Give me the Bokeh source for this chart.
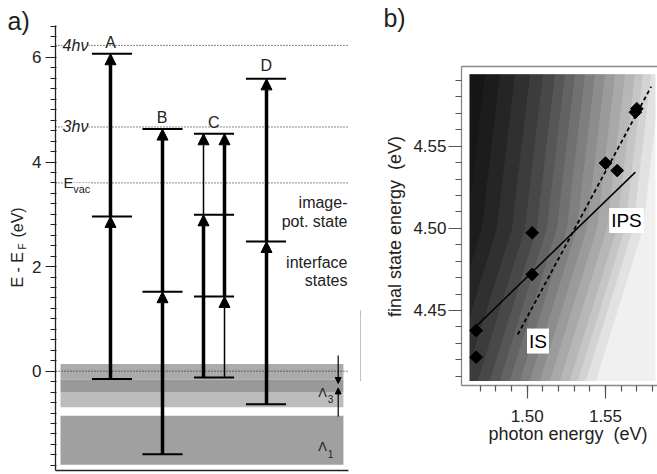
import math
import numpy as np
from bokeh.plotting import figure
from bokeh.layouts import row
from bokeh.models import (Range1d, LinearAxis, FixedTicker, Label, Arrow, NormalHead,
                          ColumnDataSource, NumeralTickFormatter)
from bokeh.embed import file_html
from bokeh.resources import INLINE

FONT = "Liberation Sans"
TXT = "#222222"

# ---------------- panel a) data ----------------
col_names = ["A", "B", "C", "D"]
col_centre = [1.915, 3.627, 5.373, 7.136]          # centre of level bars (column positions)
levels_A = [-0.15, 2.96, 6.07]
levels_B = [-1.59, 1.52, 4.63]
levels_C = [-0.12, 1.43, 2.99, 4.54]
levels_D = [-0.63, 2.48, 5.59]
letter_x = [1.864, 3.617, 5.366, 7.142]
letter_y = [6.29, 4.857, 4.76, 5.84]

arrow_x = [1.864, 1.864, 3.627, 3.627, 5.017, 5.017, 5.729, 5.729, 7.153, 7.153]
arrow_from = [-0.15, 2.96, -1.59, 1.52, -0.12, 2.99, -0.12, 1.43, -0.63, 2.48]
arrow_to = [2.96, 6.07, 1.52, 4.63, 2.99, 4.54, 1.43, 4.54, 2.48, 5.59]
arrow_thick = [1, 1, 1, 1, 1, 0, 0, 1, 1, 1]

ref_energy = [6.23, 4.67, 3.60, 0.0]        # 4hv, 3hv, Evac, EF
band_top = [0.14, -0.16, -0.40, -0.85]
band_bottom = [-0.16, -0.40, -0.69, -1.79]
band_color = ["#ababab", "#999999", "#bcbcbc", "#a0a0a0"]

y_major = [0, 2, 4, 6]
y_tick_labels = ["0", "2", "4", "6"]
a_ylim = [-1.899, 6.61]
a_xlim = [0.0, 9.93]

# ---------------- panel b) data ----------------
photon = [1.4674, 1.4674, 1.5032, 1.5032, 1.5500, 1.5575, 1.5691, 1.5700]
final_state = [4.4378, 4.4216, 4.4719, 4.4973, 4.5397, 4.5352, 4.5707, 4.5728]
ips_x = [1.4680, 1.5691]
ips_y = [4.4409, 4.5342]
is_x = [1.4940, 1.5792]
is_y = [4.4354, 4.5863]
b_xticks = [1.50, 1.55]
b_yticks = [4.45, 4.50, 4.55]
b_xlim = [1.45805, 1.58321]
b_ylim = [4.40435, 4.5985]
# background shading: band edges (photon energy at image bottom) and grey levels
grad_edges = [1.3800, 1.4223, 1.4319, 1.4414, 1.4510, 1.4606, 1.4689, 1.4765, 1.4829,
              1.4893, 1.4957, 1.5021, 1.5085, 1.5149, 1.5213, 1.5276, 1.5328, 1.5379,
              1.5443, 1.7000]
grad_grays = ["#0e0e0e", "#161616", "#1c1c1c", "#252525", "#303030", "#3c3c3c", "#484848",
              "#565656", "#636363", "#717171", "#7f7f7f", "#8d8d8d", "#9b9b9b", "#a9a9a9",
              "#b7b7b7", "#c5c5c5", "#d3d3d3", "#e2e2e2", "#f0f0f0"]
contour_y = [4.4074, 4.5000, 4.5935]
contour_dx = [0.0, 0.030, 0.0415]
img_left, img_right = 1.46316, 1.58193


def lab(p, x, y, text, size, align="center", baseline="middle", style="normal", angle=0,
        bg=None, color=TXT, padding=None):
    kw = dict(x=x, y=y, text=text, text_font=FONT, text_font_size=size, text_align=align,
              text_baseline=baseline, text_font_style=style, angle=angle, text_color=color)
    if bg is not None:
        kw["background_fill_color"] = bg
    if padding is not None:
        kw["padding"] = padding
    p.add_layout(Label(**kw))


# =============== figure a ===============
# frame covers the whole figure; px -> data: x=(px-55)/29.5, y=(370.7-py)/52.297
p1 = figure(width=360, height=474, output_backend="svg", toolbar_location=None,
            x_range=Range1d(-1.8644, 10.339), y_range=Range1d(-1.9753, 7.0885),
            min_border=0, x_axis_location=None, y_axis_location=None)
p1.outline_line_color = None
p1.grid.visible = False

yax = LinearAxis(ticker=FixedTicker(ticks=y_major,
                                    minor_ticks=list(np.round(np.arange(-1.8, 6.61, 0.2), 2))),
                 major_label_overrides={t: l for t, l in zip(y_major, y_tick_labels)},
                 fixed_location=0)
yax.axis_line_color = None
yax.major_tick_line_color = TXT
yax.minor_tick_line_color = TXT
yax.major_tick_line_width = 1.2
yax.minor_tick_line_width = 1.2
yax.major_tick_out = 10
yax.major_tick_in = 0
yax.minor_tick_out = 5
yax.minor_tick_in = 1
yax.major_label_standoff = 4
yax.major_label_text_font = FONT
yax.major_label_text_font_size = "17px"
yax.major_label_text_color = TXT
p1.add_layout(yax, "left")

# axis lines (left and bottom)
p1.segment(x0=[a_xlim[0], a_xlim[0]], x1=[a_xlim[0], a_xlim[1]],
           y0=[a_ylim[0], a_ylim[0]], y1=[a_ylim[1], a_ylim[0]],
           line_color=TXT, line_width=1.3)

# bands
p1.quad(left=0.17, right=9.76, top=band_top, bottom=band_bottom, fill_color=band_color,
        line_color=None)

# reference dotted lines
p1.segment(x0=0, x1=9.9, y0=ref_energy, y1=ref_energy, line_color="#111111", line_width=1,
           line_dash="1 2")

# level bars
lev_x, lev_y = [], []
for c, lv in zip(col_centre, [levels_A, levels_B, levels_C, levels_D]):
    for v in lv:
        lev_x.append(c)
        lev_y.append(v)
p1.segment(x0=[x - 0.68 for x in lev_x], x1=[x + 0.68 for x in lev_x], y0=lev_y, y1=lev_y,
           line_color="black", line_width=2)

# arrows
for thick in (1, 0):
    idx = [i for i, t in enumerate(arrow_thick) if t == thick]
    src = ColumnDataSource(dict(x0=[arrow_x[i] for i in idx], x1=[arrow_x[i] for i in idx],
                                y0=[arrow_from[i] for i in idx], y1=[arrow_to[i] for i in idx]))
    p1.add_layout(Arrow(source=src, x_start="x0", y_start="y0", x_end="x1", y_end="y1",
                        line_width=3.5 if thick else 1.5, line_color="black",
                        end=NormalHead(size=11, fill_color="black", line_color="black",
                                       line_width=1)))

# small Lambda3 arrows
src_s = ColumnDataSource(dict(x0=[9.583, 9.583], x1=[9.583, 9.583], y0=[0.30, -0.866],
                              y1=[-0.235, -0.32]))
p1.add_layout(Arrow(source=src_s, x_start="x0", y_start="y0", x_end="x1", y_end="y1",
                    line_width=1.2, line_color="black",
                    end=NormalHead(size=6, fill_color="black", line_color="black", line_width=1)))

for n, x, y in zip(col_names, letter_x, letter_y):
    lab(p1, x, y, n, "16px")

lab(p1, 0.24, ref_energy[0], "4hν", "16px", align="left", style="italic", bg="white")
lab(p1, 0.24, ref_energy[1], "3hν", "16px", align="left", style="italic", bg="white")
lab(p1, 0.27, ref_energy[2], "E", "15px", align="left", bg="white")
lab(p1, 0.60, ref_energy[2] - 0.115, "vac", "11px", align="left", bg="white")

lab(p1, 9.898, 3.226, "image-", "16px", align="right")
lab(p1, 9.898, 2.862, "pot. state", "16px", align="right")
lab(p1, 9.898, 2.084, "interface", "16px", align="right")
lab(p1, 9.898, 1.733, "states", "16px", align="right")

lab(p1, 9.05, -0.407, "Λ", "13px")
lab(p1, 9.32, -0.54, "3", "10px")
lab(p1, 9.05, -1.449, "Λ", "13px")
lab(p1, 9.32, -1.574, "1", "10px")

lab(p1, -1.627, 6.705, "a)", "25px", align="left")

# rotated y label "E - E_F (eV)"
lab(p1, -1.305, 1.60, "E - E", "16px", align="left", angle=math.pi / 2)
lab(p1, -1.119, 2.327, "F", "10px", align="left", angle=math.pi / 2)
lab(p1, -1.305, 2.556, "(eV)", "16px", align="left", angle=math.pi / 2)

# =============== figure b ===============
# frame covers the whole figure; px(canvas) -> x=1.5+(px-526.7)/1566, y=4.5+(227.85-py)/1643
p2 = figure(width=297, height=474, output_backend="svg", toolbar_location=None,
            x_range=Range1d(1.39355, 1.58321), y_range=Range1d(4.35018, 4.63868),
            min_border=0, x_axis_location=None, y_axis_location=None)
p2.outline_line_color = None
p2.grid.visible = False

# shaded background bands
xs, ys = [], []
for i in range(len(grad_grays)):
    a, b = grad_edges[i], grad_edges[i + 1]
    xs.append([a + d for d in contour_dx] + [b + d for d in reversed(contour_dx)])
    ys.append(list(contour_y) + list(reversed(contour_y)))
p2.patches(xs=xs, ys=ys, fill_color=grad_grays, line_color=grad_grays, line_width=1)
# white margins around the image
p2.quad(left=[1.35, img_right], right=[img_left, 1.60], bottom=4.35, top=4.64,
        fill_color="white", line_color=None)

# frame border (left, top, bottom)
p2.segment(x0=[b_xlim[0], b_xlim[0], b_xlim[0]], x1=[b_xlim[0], b_xlim[1], b_xlim[1]],
           y0=[b_ylim[0], b_ylim[1], b_ylim[0]], y1=[b_ylim[1], b_ylim[1], b_ylim[0]],
           line_color="#888888", line_width=1.3)

p2.line(ips_x, ips_y, line_color="black", line_width=1.5)
p2.line(is_x, is_y, line_color="black", line_width=1.8, line_dash="4 3")
p2.scatter(photon, final_state, marker="square", size=9, angle=math.pi / 4,
           fill_color="black", line_color="black")

lab(p2, 1.5634, 4.5048, "IPS", "19px", bg="white", color="black", padding=2)
lab(p2, 1.5069, 4.4314, "IS", "19px", bg="white", color="black", padding=2)

ax_l = LinearAxis(ticker=FixedTicker(ticks=b_yticks,
                                     minor_ticks=list(np.round(np.arange(4.41, 4.595, 0.01), 2))),
                  formatter=NumeralTickFormatter(format="0.00"), fixed_location=b_xlim[0])
ax_b = LinearAxis(ticker=FixedTicker(ticks=b_xticks,
                                     minor_ticks=list(np.round(np.arange(1.47, 1.585, 0.01), 2))),
                  formatter=NumeralTickFormatter(format="0.00"), fixed_location=b_ylim[0])
for ax in (ax_l, ax_b):
    ax.axis_line_color = None
    ax.major_tick_line_color = "#555555"
    ax.minor_tick_line_color = "#555555"
    ax.major_tick_line_width = 1.2
    ax.minor_tick_line_width = 1.2
    ax.major_tick_in = 0
    ax.minor_tick_in = 0
    ax.major_tick_out = 13
    ax.minor_tick_out = 6
    ax.major_label_text_font = FONT
    ax.major_label_text_font_size = "17px"
    ax.major_label_text_color = TXT
ax_l.major_label_standoff = 2
ax_b.major_label_standoff = 12
p2.add_layout(ax_l, "left")
p2.add_layout(ax_b, "below")

lab(p2, 1.4159, 4.5011, "final state energy\u00a0 (eV)", "18px", angle=math.pi / 2)
lab(p2, 1.5261, 4.3751, "photon energy\u00a0 (eV)", "18px")
lab(p2, 1.4082, 4.6283, "b)", "25px", align="left")

layout = row(p1, p2)
open("out.html", "w").write(file_html(layout, INLINE))
